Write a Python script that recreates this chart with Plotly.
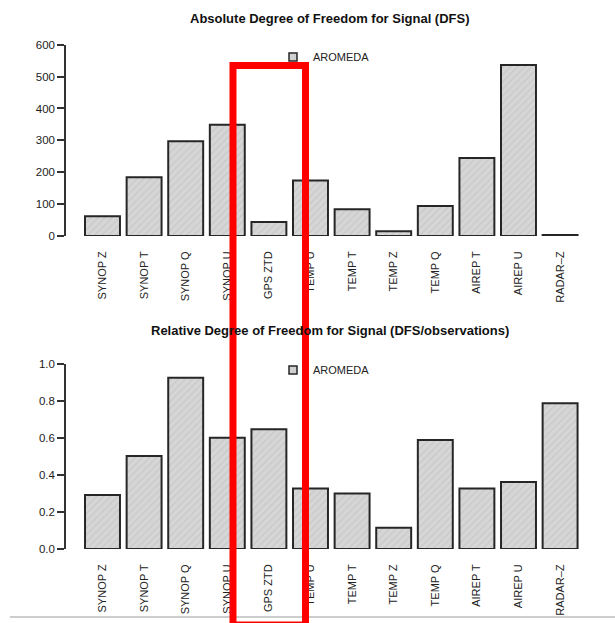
import plotly.graph_objects as go

categories = ["SYNOP Z", "SYNOP T", "SYNOP Q", "SYNOP U", "GPS ZTD", "TEMP U",
              "TEMP T", "TEMP Z", "TEMP Q", "AIREP T", "AIREP U", "RADAR\u2013Z"]
dfs_abs = [62, 184, 297, 349, 44, 174, 84, 15, 94, 245, 536, 3]
dfs_rel = [0.292, 0.503, 0.927, 0.603, 0.648, 0.327, 0.30, 0.115, 0.59, 0.327, 0.363, 0.789]
series_name = "AROMEDA"
abs_ticks = [0, 100, 200, 300, 400, 500, 600]
rel_ticks = [0.0, 0.2, 0.4, 0.6, 0.8, 1.0]

W, H = 615, 623
def py(p):
    return (H - p) / H
def px(p):
    return p / W

FONT = "Liberation Sans, Arial, Helvetica, sans-serif"
bar_style = dict(
    color="#d6d6d6",
    line=dict(color="#262626", width=2),
    pattern=dict(shape="/", fgcolor="#b8b8b8", bgcolor="#d6d6d6", size=5, solidity=0.22),
)
legend_marker = dict(symbol="square", size=8, color="#d0d0d0", line=dict(color="#262626", width=1.5))

fig = go.Figure()
fig.add_trace(go.Bar(x=categories, y=dfs_abs, name=series_name, marker=bar_style,
                     xaxis="x", yaxis="y", showlegend=False))
fig.add_trace(go.Bar(x=categories, y=dfs_rel, name=series_name, marker=bar_style,
                     xaxis="x2", yaxis="y2", showlegend=False))
fig.add_trace(go.Scatter(x=[None], y=[None], mode="markers", name=series_name, marker=legend_marker,
                         xaxis="x", yaxis="y", legend="legend", showlegend=True))
fig.add_trace(go.Scatter(x=[None], y=[None], mode="markers", name=series_name, marker=legend_marker,
                         xaxis="x2", yaxis="y2", legend="legend2", showlegend=True))

x_left, x_right = 66, 596
spacing = 41.6
c0 = 102.5
xr = [(x_left - c0) / spacing, (x_right - c0) / spacing]

xaxis_common = dict(
    type="category", range=xr, domain=[px(x_left), px(x_right)], automargin=False,
    showline=False, showgrid=False, zeroline=False,
    ticks="outside", ticklen=10, tickcolor="rgba(0,0,0,0)",
    tickangle=-90, tickfont=dict(family=FONT, size=11, color="#222"),
)
yaxis_common = dict(
    showline=True, linecolor="#333", linewidth=1.5, showgrid=False, zeroline=False,
    automargin=False,
    ticks="outside", ticklen=7, tickwidth=1.5, tickcolor="#333",
    tickfont=dict(family=FONT, size=11.5, color="#222"),
)

fig.update_layout(
    width=W, height=H, margin=dict(l=0, r=0, t=0, b=0, autoexpand=False),
    paper_bgcolor="white", plot_bgcolor="white",
    bargap=0.16,
    xaxis=dict(**xaxis_common, anchor="y"),
    xaxis2=dict(**xaxis_common, anchor="y2"),
    yaxis=dict(**yaxis_common, range=[0, 600], tickvals=abs_ticks,
               domain=[py(236), py(44.7)], anchor="x"),
    yaxis2=dict(**yaxis_common, range=[0, 1], tickvals=rel_ticks, tickformat=".1f",
                domain=[py(549), py(364.3)], anchor="x2"),
    legend=dict(x=px(273), y=py(57), xanchor="left", yanchor="middle",
                bgcolor="rgba(0,0,0,0)", font=dict(family=FONT, size=11, color="#222"),
                itemwidth=30),
    legend2=dict(x=px(273), y=py(370), xanchor="left", yanchor="middle",
                 bgcolor="rgba(0,0,0,0)", font=dict(family=FONT, size=11, color="#222"),
                 itemwidth=30),
    showlegend=True,
    annotations=[
        dict(text="<b>Absolute Degree of Freedom for Signal (DFS)</b>", x=px(330), y=py(18),
             xref="paper", yref="paper", showarrow=False, xanchor="center", yanchor="middle",
             font=dict(family=FONT, size=13, color="#111")),
        dict(text="<b>Relative Degree of Freedom for Signal (DFS/observations)</b>", x=px(330), y=py(330),
             xref="paper", yref="paper", showarrow=False, xanchor="center", yanchor="middle",
             font=dict(family=FONT, size=13, color="#111")),
    ],
    shapes=[
        dict(type="line", xref="paper", yref="paper", x0=px(10), x1=px(615), y0=py(617), y1=py(617),
             line=dict(color="#9a9a9a", width=1)),
        dict(type="rect", xref="paper", yref="paper", x0=px(233), x1=px(305.5), y0=py(65.5), y1=py(625),
             line=dict(color="#ff0000", width=7), layer="above"),
    ],
)

fig.write_html("out.html")
